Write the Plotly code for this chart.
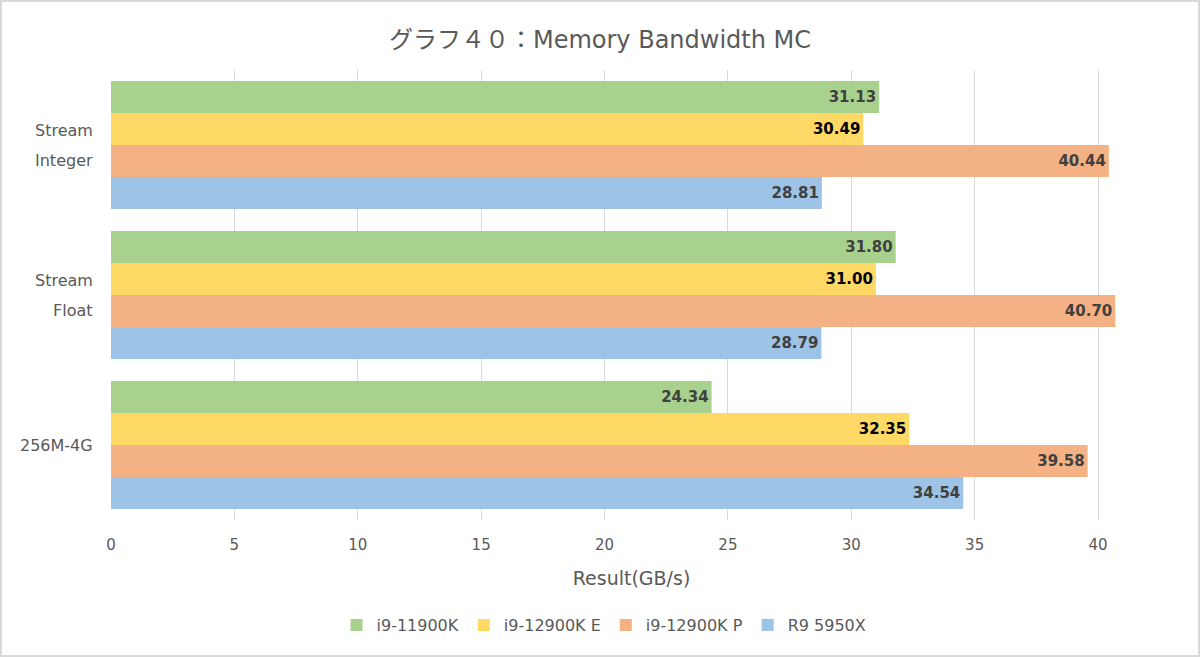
import plotly.graph_objects as go

categories = ["Stream Integer", "Stream Float", "256M-4G"]
category_lines = [["Stream", "Integer"], ["Stream", "Float"], ["256M-4G"]]
series_names = ["i9-11900K", "i9-12900K E", "i9-12900K P", "R9 5950X"]
v_11900k = [31.13, 31.80, 24.34]
v_12900k_e = [30.49, 31.00, 32.35]
v_12900k_p = [40.44, 40.70, 39.58]
v_5950x = [28.81, 28.79, 34.54]
x_ticks = [0, 5, 10, 15, 20, 25, 30, 35, 40]

colors = ["#A9D18E", "#FFD966", "#F4B183", "#9DC3E6"]
label_colors = ["#404040", "#000000", "#404040", "#404040"]
values = [v_11900k, v_12900k_e, v_12900k_p, v_5950x]

FONT = "DejaVu Sans, Noto Sans CJK JP, sans-serif"

fig = go.Figure()
for name, vals, c, lc in zip(series_names, values, colors, label_colors):
    fig.add_trace(go.Bar(
        y=categories, x=vals, name=name, orientation="h",
        marker=dict(color=c, line=dict(width=0)),
        texttemplate="%{x:.2f}", textposition="inside",
        insidetextanchor="end", textangle=0,
        textfont=dict(family=FONT, size=15, color=lc, weight="bold"),
        hoverinfo="x+name",
    ))

ml, mr, mt, mb = 111, 48, 70, 137
W, H = 1200, 657
pw, ph = W - ml - mr, H - mt - mb
px_per_unit = 24.675
x_max = pw / px_per_unit

# category labels (two-line labels with wide line spacing)
annotations = []
for cat, lines in zip(categories, category_lines):
    n = len(lines)
    for i, line in enumerate(lines):
        shift = (n - 1) / 2 * 30 - i * 30
        annotations.append(dict(
            text=line, xref="paper", x=0, xanchor="right", xshift=-16,
            yref="y", y=cat, yanchor="middle", yshift=shift,
            showarrow=False, font=dict(family=FONT, size=16, color="#595959")))

fig.update_layout(
    width=W, height=H,
    barmode="group", bargap=0.147, bargroupgap=0,
    paper_bgcolor="white", plot_bgcolor="white",
    margin=dict(l=ml, r=mr, t=mt, b=mb),
    font=dict(family=FONT, color="#595959"),
    title=dict(text="グラフ４０：Memory Bandwidth MC", x=(600 - 0) / W, xanchor="center",
               xref="paper" if False else "container",
               y=1 - 40 / H, yanchor="middle",
               font=dict(family=FONT, size=24, color="#595959")),
    xaxis=dict(range=[0, x_max], tickvals=x_ticks, showgrid=True,
               gridcolor="#D9D9D9", gridwidth=1, zeroline=False,
               showline=False, ticks="", ticklabelstandoff=14,
               tickfont=dict(size=15, color="#595959"),
               title=dict(text="Result(GB/s)", font=dict(size=19, color="#595959"), standoff=18)),
    yaxis=dict(autorange="reversed", showgrid=False, zeroline=False, showline=False,
               ticks="", showticklabels=False),
    legend=dict(orientation="h", x=(604 - ml) / pw, xanchor="center", y=-(625 - (mt + ph)) / ph,
                yanchor="middle", font=dict(size=16, color="#595959"),
                traceorder="normal", itemwidth=30),
    annotations=annotations,
    shapes=[dict(type="rect", xref="paper", yref="paper",
                 x0=(1 - ml) / pw, x1=(W - 1 - ml) / pw,
                 y0=-(H - 1 - mt - ph) / ph, y1=1 + (mt - 1) / ph,
                 line=dict(color="#D9D9D9", width=2), fillcolor="rgba(0,0,0,0)",
                 layer="below")],
)

fig.write_html("out.html", config={"displayModeBar": False},
               post_script="document.body.style.margin='0';document.body.style.overflow='hidden';")
